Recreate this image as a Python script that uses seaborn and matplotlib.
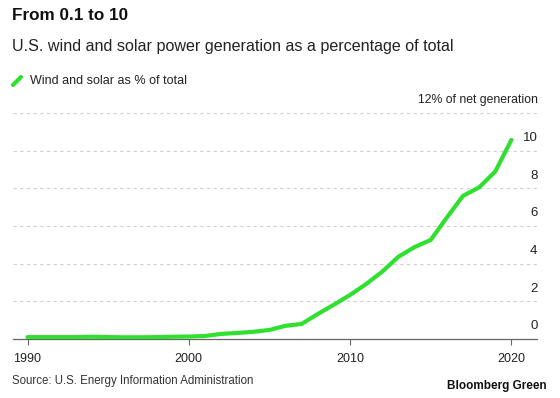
import numpy as np
import pandas as pd
import matplotlib
matplotlib.use("Agg")
import matplotlib.pyplot as plt
import seaborn as sns
from matplotlib.lines import Line2D

# data
years = list(range(1990, 2021))
share = [0.10, 0.10, 0.10, 0.10, 0.12, 0.10, 0.09, 0.09, 0.10, 0.12,
         0.13, 0.16, 0.27, 0.32, 0.38, 0.48, 0.70, 0.80, 1.33, 1.82,
         2.34, 2.92, 3.58, 4.37, 4.88, 5.26, 6.45, 7.60, 8.05, 8.89,
         10.57]
yticks = [0, 2, 4, 6, 8, 10]
xticks = [1990, 2000, 2010, 2020]

df = pd.DataFrame({"year": years, "share": share})

sns.set_theme(style="white")
plt.rcParams["font.family"] = ["Liberation Sans", "DejaVu Sans"]

green = "#2fe02f"
grey_txt = "#222222"

fig = plt.figure(figsize=(5.6, 3.98), dpi=100)
ax = fig.add_axes([12.5 / 560, 1 - 339 / 398, (537.5 - 12.5) / 560, (339 - 113) / 398])

sns.lineplot(data=df, x="year", y="share", ax=ax, color=green, linewidth=3.0,
             solid_capstyle="round", solid_joinstyle="round", zorder=3)

ax.set_xlim(1989.07, 2021.62)
ax.set_ylim(0, 12)

# dashed grid lines
for v in yticks[1:] + [12]:
    ax.axhline(v, color="#d0d0d0", linewidth=0.8, linestyle=(0, (3, 3)), zorder=1)

# y labels sitting above the grid lines on the right
for v in yticks:
    ax.text(1.0, v + 0.35, str(v), transform=ax.get_yaxis_transform(),
            ha="right", va="bottom", fontsize=9.5, color=grey_txt)
ax.text(1.0, 12 + 0.35, "12% of net generation", transform=ax.get_yaxis_transform(),
        ha="right", va="bottom", fontsize=8.8, color=grey_txt)

ax.set_yticks([])
ax.set_xticks(xticks)
ax.set_xticklabels([str(x) for x in xticks], fontsize=9, color=grey_txt)
ax.tick_params(axis="x", length=4, width=0.8, color="#666666", direction="out", pad=6, bottom=True)
ax.set_xlabel("")
ax.set_ylabel("")

for s in ["top", "right", "left"]:
    ax.spines[s].set_visible(False)
ax.spines["bottom"].set_color("#666666")
ax.spines["bottom"].set_linewidth(0.9)

# titles and notes
fig.text(12 / 560, 1 - 15 / 398, "From 0.1 to 10", fontsize=12.3, fontweight="bold",
         ha="left", va="center", color="#111111")
fig.text(12 / 560, 1 - 46 / 398, "U.S. wind and solar power generation as a percentage of total",
         fontsize=11.6, ha="left", va="center", color=grey_txt)

fig.lines.append(Line2D([13 / 560, 21 / 560], [1 - 85 / 398, 1 - 77 / 398],
                        transform=fig.transFigure, color=green, linewidth=3.0,
                        solid_capstyle="round"))
fig.text(30 / 560, 1 - 81 / 398, "Wind and solar as % of total", fontsize=9,
         ha="left", va="center", color=grey_txt)

fig.text(12 / 560, 1 - 381 / 398, "Source: U.S. Energy Information Administration",
         fontsize=8.3, ha="left", va="center", color="#333333")
fig.text(547 / 560, 1 - 386 / 398, "Bloomberg Green", fontsize=8.5, fontweight="bold",
         ha="right", va="center", color="#111111")

fig.savefig("out.png", dpi=100, facecolor="white")
